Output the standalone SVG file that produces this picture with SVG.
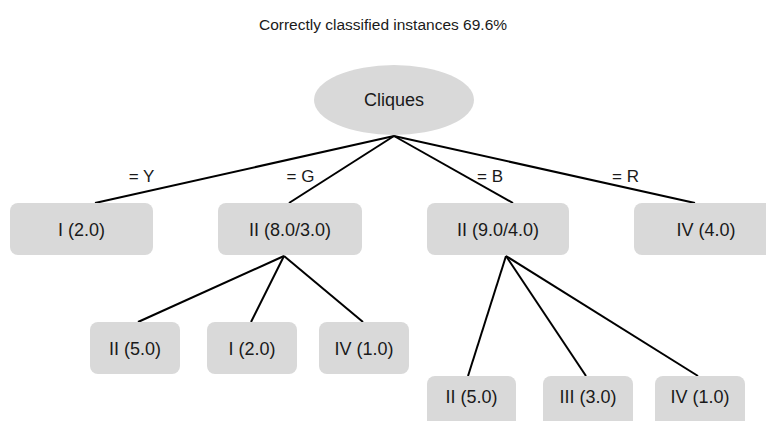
<svg xmlns="http://www.w3.org/2000/svg" width="766" height="421" viewBox="0 0 766 421">
<style>
.n{fill:#d9d9d9;}
.t{font-family:"Liberation Sans",Arial,sans-serif;font-size:18px;fill:#1a1a1a;text-anchor:middle;}
.l{font-family:"Liberation Sans",Arial,sans-serif;font-size:17px;fill:#1a1a1a;text-anchor:middle;}
.c line{stroke:#000;stroke-width:2;}
</style>
<rect width="766" height="421" fill="#fff"/>
<text x="383" y="30" style="font-family:'Liberation Sans',Arial,sans-serif;font-size:15.5px;fill:#1a1a1a;text-anchor:middle">Correctly classified instances 69.6%</text>
<g class="c" id="connectors">
<line x1="394" y1="136" x2="95" y2="203"/>
<line x1="394" y1="136" x2="289" y2="203"/>
<line x1="394" y1="136" x2="513" y2="203"/>
<line x1="394" y1="136" x2="695" y2="203"/>
<line x1="284" y1="256" x2="138" y2="322"/>
<line x1="284" y1="256" x2="251" y2="322"/>
<line x1="284" y1="256" x2="363" y2="322"/>
<line x1="506" y1="256" x2="468" y2="376"/>
<line x1="506" y1="256" x2="586" y2="376"/>
<line x1="506" y1="256" x2="698" y2="376"/>
<text class="l" x="141.5" y="182">= Y</text>
<text class="l" x="300.5" y="182">= G</text>
<text class="l" x="490" y="182">= B</text>
<text class="l" x="625.5" y="182">= R</text>
</g>
<g id="root"><ellipse class="n" cx="394" cy="100" rx="80" ry="35"/><text class="t" x="394" y="106">Cliques</text></g>
<g id="n1"><rect class="n" x="10" y="203" width="143" height="52" rx="8"/><text class="t" x="81.5" y="235.5">I (2.0)</text></g>
<g id="n2"><rect class="n" x="218" y="203" width="144" height="52" rx="8"/><text class="t" x="290" y="235.5">II (8.0/3.0)</text></g>
<g id="n3"><rect class="n" x="427" y="203" width="142" height="52" rx="8"/><text class="t" x="498" y="235.5">II (9.0/4.0)</text></g>
<g id="n4"><rect class="n" x="634" y="203" width="144" height="52" rx="8"/><text class="t" x="706" y="235.5">IV (4.0)</text></g>
<g id="n5"><rect class="n" x="90" y="322" width="90" height="52" rx="8"/><text class="t" x="135" y="354.5">II (5.0)</text></g>
<g id="n6"><rect class="n" x="207" y="322" width="90" height="52" rx="8"/><text class="t" x="252" y="354.5">I (2.0)</text></g>
<g id="n7"><rect class="n" x="319" y="322" width="90" height="52" rx="8"/><text class="t" x="364" y="354.5">IV (1.0)</text></g>
<g id="n8"><rect class="n" x="427" y="376" width="89" height="52" rx="8"/><text class="t" x="471.5" y="402.5">II (5.0)</text></g>
<g id="n9"><rect class="n" x="543" y="376" width="90" height="52" rx="8"/><text class="t" x="588" y="402.5">III (3.0)</text></g>
<g id="n10"><rect class="n" x="655" y="376" width="90" height="52" rx="8"/><text class="t" x="700" y="402.5">IV (1.0)</text></g>
</svg>
